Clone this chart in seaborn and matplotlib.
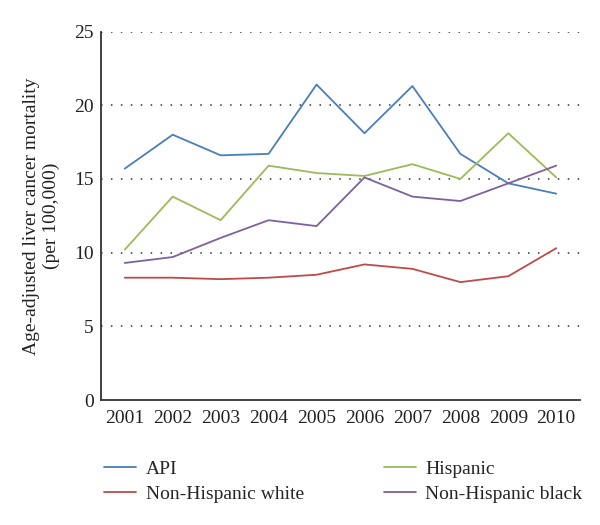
import numpy as np
import pandas as pd
import seaborn as sns
import matplotlib
matplotlib.use("Agg")
import matplotlib.pyplot as plt

years = ["2001", "2002", "2003", "2004", "2005", "2006", "2007", "2008", "2009", "2010"]
api = [15.7, 18.0, 16.6, 16.7, 21.4, 18.1, 21.3, 16.7, 14.7, 14.0]
hispanic = [10.2, 13.8, 12.2, 15.9, 15.4, 15.2, 16.0, 15.0, 18.1, 15.1]
nh_white = [8.3, 8.3, 8.2, 8.3, 8.5, 9.2, 8.9, 8.0, 8.4, 10.3]
nh_black = [9.3, 9.7, 11.0, 12.2, 11.8, 15.1, 13.8, 13.5, 14.7, 15.9]

groups = ["API", "Non-Hispanic white", "Hispanic", "Non-Hispanic black"]
colors = ["#4a7ebb", "#be4b48", "#9bbb59", "#7d60a0"]

rows = []
for name, vals in zip(groups, [api, nh_white, hispanic, nh_black]):
    for i, v in enumerate(vals):
        rows.append({"idx": i, "value": v, "group": name})
df = pd.DataFrame(rows)

sns.set_style("white")
plt.rcParams["font.family"] = ["Liberation Serif", "DejaVu Serif"]

fig, ax = plt.subplots(figsize=(6, 5.25), dpi=100)
fig.subplots_adjust(left=0.168, right=0.967, top=0.94, bottom=0.238)

sns.lineplot(data=df, x="idx", y="value", hue="group", hue_order=groups,
             palette=colors, linewidth=1.3, ax=ax, legend=True)

ax.set_xlim(-0.5, 9.5)
ax.set_ylim(0, 25)
ax.set_xticks(range(len(years)))
ax.set_xticklabels(years)
ax.set_yticks([0, 5, 10, 15, 20, 25])
ax.tick_params(axis="both", length=0, labelsize=14, colors="#222222")
ax.tick_params(axis="x", pad=7)
ax.tick_params(axis="y", pad=5)

for y in [5, 10, 15, 20, 25]:
    ax.axhline(y, color="#333333", linestyle=(0, (1, 5.5)), linewidth=1.1, zorder=0)

for s in ["top", "right"]:
    ax.spines[s].set_visible(False)
for s in ["left", "bottom"]:
    ax.spines[s].set_color("#333333")
    ax.spines[s].set_linewidth(1.3)

ax.set_xlabel("")
ax.set_ylabel("Age-adjusted liver cancer mortality\n(per 100,000)", fontsize=14,
              color="#222222", labelpad=10)

handles, labels = ax.get_legend_handles_labels()
ax.legend(handles, labels, ncol=2, loc="upper left", bbox_to_anchor=(-0.03, -0.115),
          frameon=False, fontsize=14, handlelength=1.65, handletextpad=0.5,
          columnspacing=4.1, labelspacing=0.38)

fig.savefig("out.png", dpi=100)
